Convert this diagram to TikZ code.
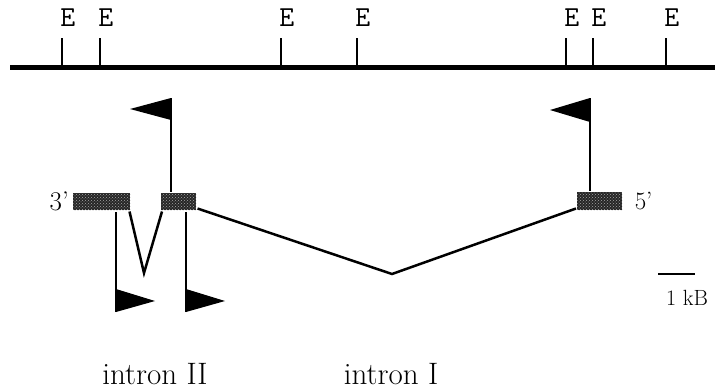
\documentclass[tikz,border=0pt]{standalone}
\usepackage{fontspec}
\usetikzlibrary{patterns}

\tikzset{
	exon/.style={preaction={fill=black!85},pattern=crosshatch dots,pattern color=black!35,
		minimum height=17pt,inner sep=0pt,anchor=north west},
	site/.style={anchor=south west,inner sep=0pt,xshift=-3pt,yshift=10pt,font=\ttfamily\fontsize{29}{29}\selectfont},
	lbl/.style={inner sep=0pt,font=\fontsize{27}{27}\selectfont}
}

\begin{document}
\begin{tikzpicture}[x=1pt,y=-1pt,line width=2.5pt]
	\useasboundingbox (0,0) rectangle (715,391);
	% restriction map
	\draw[line width=4.5pt] (10,67.5) -- (715,67.5);
	\foreach \x in {62,100,281,357,566,593,666}
		\draw (\x,67.5) -- (\x,38) node[site] (e\x) {E};
	% exons
	\node[exon,minimum width=57pt] (exonIII) at (72,192) {};
	\node[exon,minimum width=35pt] (exonII) at (160,192) {};
	\node[exon,minimum width=45pt,minimum height=18pt] (exonI) at (576,191) {};
	\node[lbl,anchor=east] (end3) at ([xshift=-2pt]exonIII.west) {3'};
	\node[lbl,anchor=west,font=\fontsize{25}{25}\selectfont] (end5) at ([xshift=10pt]exonI.east) {5'};
	% flags above
	\coordinate (flagII) at (171,98);
	\coordinate (flagI) at (590,98);
	\draw (flagII) -- (flagII |- exonII.north);
	\fill (flagII) -- ++(-41,11) -- ++(41,11) -- cycle;
	\draw (flagI) -- (flagI |- exonI.north);
	\fill (flagI) -- ++(-40,12) -- ++(40,12) -- cycle;
	% flags below
	\coordinate (flagA) at (116,312);
	\coordinate (flagB) at (186,312);
	\draw (flagA) -- (flagA |- exonIII.south);
	\fill (flagA) -- ++(0,-23) -- ++(39,12) -- cycle;
	\draw (flagB) -- (flagB |- exonII.south);
	\fill (flagB) -- ++(0,-23) -- ++(39,12) -- cycle;
	% introns
	\coordinate (tipII) at (144,273);
	\coordinate (tipI) at (392,274);
	\draw ([xshift=-2pt]exonIII.south east) -- (tipII) -- ([xshift=2pt]exonII.south west);
	\draw ([yshift=3pt]exonII.south east) -- (tipI) -- ([yshift=3pt]exonI.south west);
	\node[lbl,anchor=base,font=\fontsize{31}{31}\selectfont] (intronII) at (155,384) {intron II};
	\node[lbl,anchor=base,font=\fontsize{31}{31}\selectfont] (intronI) at (391,384) {intron I};
	% scale
	\coordinate (bar) at (658,274);
	\draw (bar) -- ++(37,0);
	\node[lbl,anchor=base,font=\fontsize{22}{22}\selectfont] (kb) at (687,305) {1 kB};
\end{tikzpicture}
\end{document}
